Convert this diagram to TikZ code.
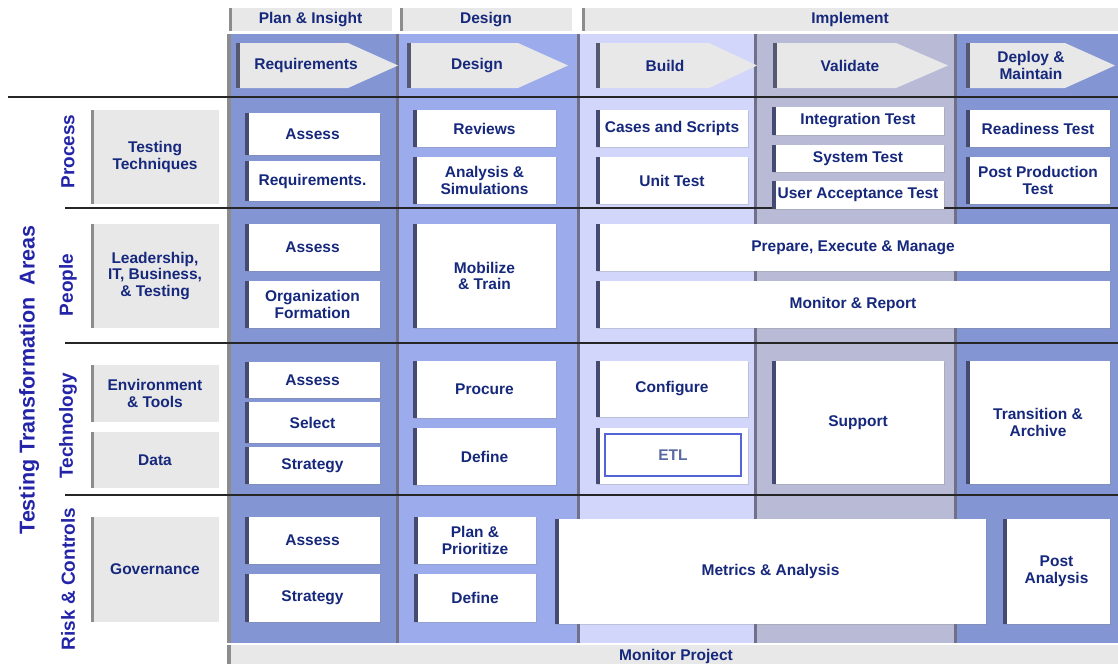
\documentclass[tikz,border=0pt]{standalone}
\usepackage{fontspec}
\setmainfont{Liberation Sans}
\usetikzlibrary{shadows}
\definecolor{navy}{HTML}{16287C}
\definecolor{vblue}{HTML}{2424A8}
\definecolor{colA}{HTML}{8395D3}
\definecolor{colB}{HTML}{9CABEB}
\definecolor{colC}{HTML}{D2D6FA}
\definecolor{colD}{HTML}{B9BBD6}
\definecolor{sepc}{HTML}{6F7188}
\definecolor{lgray}{HTML}{E8E8E8}
\definecolor{mgray}{HTML}{8C8C8C}
\definecolor{barc}{HTML}{454A70}
\definecolor{chbar}{HTML}{55586E}
\definecolor{etlc}{HTML}{5A6AA0}
\definecolor{etlb}{HTML}{5464D4}
\newcommand\mychev[3]{%
  \fill[lgray] (#1,43) -- (#2,43) -- (#3,65.5) -- (#2,88) -- (#1,88) -- cycle;
  \fill[chbar] (#1,43) rectangle (#1+3.5,88);}
% style, name, x1, y1, x2, y2, text
\newcommand\bx[7]{%
  \node[#1, minimum width={#5-#3}, minimum height={#6-#4}] (#2) at ({(#3+#5)/2},{(#4+#6)/2}) {#7};}
\begin{document}
\begin{tikzpicture}[x=1pt,y=-1pt,
  txt/.style={font=\fontsize{15.5}{16.5}\selectfont\bfseries, text=navy, align=center},
  wbox/.style={txt, fill=white, inner sep=0pt, outer sep=0pt,
    drop shadow={shadow xshift=1.2pt, shadow yshift=-1.2pt, opacity=0.25},
    path picture={\fill[barc] (path picture bounding box.north west) rectangle ([xshift=3.5pt]path picture bounding box.south west);}},
  lbox/.style={txt, fill=lgray, inner sep=0pt, outer sep=0pt,
    path picture={\fill[mgray] (path picture bounding box.north west) rectangle ([xshift=3pt]path picture bounding box.south west);}},
  etlbox/.style={txt, draw=etlb, line width=1.3pt, text=etlc, inner sep=0pt},
  rowlab/.style={rotate=90, font=\fontsize{19}{21}\selectfont\bfseries, text=vblue},
  sep/.style={draw=sepc, line width=3pt},
  hline/.style={draw=black!85, line width=2.5pt}
]
\useasboundingbox (0,0) rectangle (1118,664);
% column backgrounds
\fill[colA] (228,34) rectangle (397,643);
\fill[colB] (397,34) rectangle (578,643);
\fill[colC] (578,34) rectangle (755,643);
\fill[colD] (755,34) rectangle (955,643);
\fill[colA] (955,34) rectangle (1118,643);
\fill[mgray] (227,34) rectangle (231,643);
\draw[sep] (397,34) -- (397,643);
\draw[sep] (578,34) -- (578,643);
\draw[sep] (755,34) -- (755,643);
\draw[sep] (955,34) -- (955,643);
% phase headers
\bx{lbox}{hPlan}{229}{8}{392}{31}{Plan \& Insight}
\bx{lbox}{hDes}{400}{8}{572}{31}{Design}
\bx{lbox}{hImp}{582}{8}{1118}{31}{Implement}
% chevrons
\mychev{236}{348}{398}
\mychev{407}{518}{568}
\mychev{596}{709}{757}
\mychev{773}{896}{948}
\mychev{966}{1065}{1115}
\node[txt] (cReq) at (306,65.5) {Requirements};
\node[txt] (cDes) at (477,65.5) {Design};
\node[txt] (cBld) at (665,65.5) {Build};
\node[txt] (cVal) at (850,65.5) {Validate};
\node[txt] (cDep) at (1031,65.5) {Deploy \&\\Maintain};
% horizontal rules
\draw[hline] (8,97) -- (1118,97);
\draw[hline] (65,208) -- (1118,208);
\draw[hline] (65,343) -- (1118,343);
\draw[hline] (65,495) -- (1118,495);
% left labels
\node[rotate=90, font=\fontsize{21.5}{23}\selectfont\bfseries, text=vblue] (areas) at (29,380) {Testing Transformation\ \ Areas};
\node[rowlab] (lProc) at (68,151.5) {Process};
\node[rowlab] (lPeop) at (68,285) {People};
\node[rowlab] (lTech) at (68,426) {Technology};
\node[rowlab] (lRisk) at (68,579) {Risk \& Controls};
% gray label boxes
\bx{lbox}{gTT}{91}{110}{219}{204}{Testing\\Techniques}
\bx{lbox}{gLead}{91}{224}{219}{328}{Leadership,\\IT, Business,\\\& Testing}
\bx{lbox}{gEnv}{91}{365}{219}{422}{Environment\\\& Tools}
\bx{lbox}{gData}{91}{432}{219}{488}{Data}
\bx{lbox}{gGov}{91}{517}{219}{622}{Governance}
% Requirements column
\bx{wbox}{p1a}{245}{113}{380}{155}{Assess}
\bx{wbox}{p1b}{245}{161}{380}{201}{Requirements.}
\bx{wbox}{e1a}{245}{224}{380}{271}{Assess}
\bx{wbox}{e1b}{245}{281}{380}{328}{Organization\\Formation}
\bx{wbox}{t1a}{245}{362}{380}{398}{Assess}
\bx{wbox}{t1b}{245}{402}{380}{443}{Select}
\bx{wbox}{t1c}{245}{447}{380}{484}{Strategy}
\bx{wbox}{r1a}{245}{517}{380}{564}{Assess}
\bx{wbox}{r1b}{245}{574}{380}{622}{Strategy}
% Design column
\bx{wbox}{p2a}{413}{110}{556}{147}{Reviews}
\bx{wbox}{p2b}{413}{157}{556}{204}{Analysis \&\\Simulations}
\bx{wbox}{e2}{413}{224}{556}{328}{Mobilize\\\& Train}
\bx{wbox}{t2a}{413}{361}{556}{418}{Procure}
\bx{wbox}{t2b}{413}{428}{556}{485}{Define}
\bx{wbox}{r2a}{414}{517}{536}{564}{Plan \&\\Prioritize}
\bx{wbox}{r2b}{414}{574}{536}{622}{Define}
% Build column
\bx{wbox}{p3a}{596}{110}{748}{147}{Cases and Scripts}
\bx{wbox}{p3b}{596}{157}{748}{204}{Unit Test}
\bx{wbox}{t3a}{596}{361}{748}{417}{Configure}
\bx{wbox}{t3b}{596}{428}{748}{484}{}
\bx{etlbox}{etl}{605}{434}{741}{476}{ETL}
% Validate column
\bx{wbox}{p4a}{772}{107}{944}{135}{Integration Test}
\bx{wbox}{p4b}{772}{145}{944}{172}{System Test}
\bx{wbox}{p4c}{772}{181}{944}{209}{User Acceptance Test}
\bx{wbox}{t4}{772}{361}{944}{484}{Support}
% Deploy column
\bx{wbox}{p5a}{966}{110}{1110}{147}{Readiness Test}
\bx{wbox}{p5b}{966}{157}{1110}{204}{Post Production\\Test}
\bx{wbox}{t5}{966}{361}{1110}{484}{Transition \&\\Archive}
% wide boxes
\bx{wbox}{e3a}{596}{224}{1110}{271}{Prepare, Execute \& Manage}
\bx{wbox}{e3b}{596}{281}{1110}{328}{Monitor \& Report}
\bx{wbox}{r3}{555}{519}{986}{624}{Metrics \& Analysis}
\bx{wbox}{r5}{1003}{519}{1110}{624}{Post\\Analysis}
% monitor bar
\fill[lgray] (228,645) rectangle (1118,664);
\fill[mgray] (227,645) rectangle (231,664);
\node[txt] (mon) at (676,656) {Monitor Project};
\end{tikzpicture}
\end{document}
